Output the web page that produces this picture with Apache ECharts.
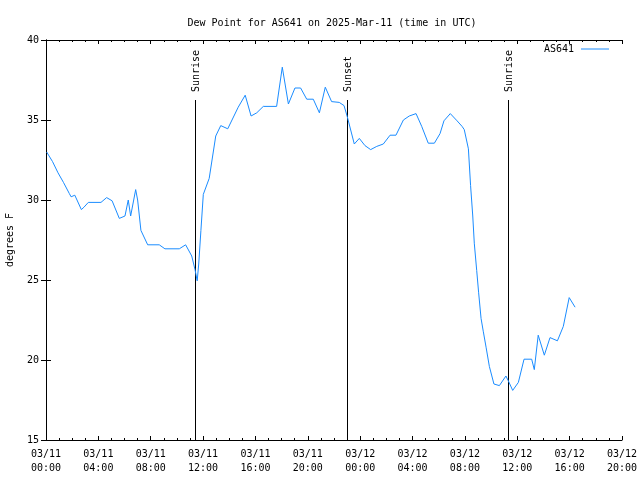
<!DOCTYPE html>
<html><head><meta charset="utf-8">
<script src="https://cdn.jsdelivr.net/npm/echarts@6/dist/echarts.min.js"></script>
<style>html,body{margin:0;padding:0;background:#fff}#c{width:640px;height:480px}</style>
</head><body><div id="c"></div>
<script>
const times = ['03/11 00:03','03/11 00:30','03/11 00:55','03/11 01:20','03/11 01:47','03/11 01:55','03/11 02:12','03/11 02:42','03/11 02:54','03/11 03:14','03/11 04:12','03/11 04:38','03/11 05:03','03/11 05:36','03/11 06:02','03/11 06:17','03/11 06:28','03/11 06:51','03/11 07:00','03/11 07:15','03/11 07:46','03/11 08:39','03/11 09:05','03/11 10:11','03/11 10:40','03/11 11:08','03/11 11:23','03/11 11:33','03/11 11:40','03/11 11:50','03/11 12:01','03/11 12:28','03/11 12:58','03/11 13:21','03/11 13:53','03/11 14:41','03/11 15:13','03/11 15:40','03/11 16:06','03/11 16:36','03/11 17:37','03/11 18:03','03/11 18:31','03/11 19:01','03/11 19:27','03/11 19:55','03/11 20:25','03/11 20:53','03/11 21:20','03/11 21:49','03/11 22:24','03/11 22:46','03/11 23:01','03/11 23:33','03/11 23:56','03/12 00:22','03/12 00:48','03/12 01:16','03/12 01:46','03/12 02:17','03/12 02:44','03/12 03:18','03/12 03:45','03/12 04:16','03/12 04:42','03/12 05:12','03/12 05:40','03/12 06:06','03/12 06:24','03/12 06:53','03/12 07:24','03/12 07:47','03/12 07:57','03/12 08:16','03/12 08:26','03/12 08:36','03/12 08:43','03/12 08:54','03/12 09:03','03/12 09:14','03/12 09:24','03/12 09:37','03/12 09:52','03/12 10:13','03/12 10:38','03/12 11:08','03/12 11:19','03/12 11:39','03/12 12:05','03/12 12:31','03/12 13:06','03/12 13:18','03/12 13:36','03/12 14:04','03/12 14:30','03/12 15:04','03/12 15:31','03/12 15:58','03/12 16:25'];
const dewPoint = [33.0,32.4,31.7,31.1,30.4,30.2,30.3,29.4,29.55,29.85,29.85,30.15,29.95,28.85,29.0,30.0,29.0,30.65,30.0,28.1,27.2,27.2,26.95,26.95,27.2,26.5,25.65,24.95,26.0,28.1,30.35,31.35,34.0,34.65,34.45,35.8,36.55,35.25,35.45,35.85,35.85,38.3,36.0,37.0,37.0,36.3,36.3,35.45,37.05,36.15,36.1,35.9,35.2,33.5,33.85,33.4,33.15,33.35,33.5,34.05,34.05,35.0,35.25,35.4,34.6,33.55,33.55,34.15,34.95,35.4,34.95,34.6,34.4,33.2,30.9,29.0,27.3,25.6,24.2,22.6,21.8,20.8,19.6,18.5,18.4,19.0,18.7,18.1,18.6,20.05,20.05,19.4,21.55,20.3,21.4,21.2,22.1,23.9,23.3];
const xTickLabels = ['03/11\n00:00','03/11\n04:00','03/11\n08:00','03/11\n12:00','03/11\n16:00','03/11\n20:00','03/12\n00:00','03/12\n04:00','03/12\n08:00','03/12\n12:00','03/12\n16:00','03/12\n20:00'];
const sunTimes = ['03/11 11:23','03/11 23:01','03/12 11:19'];
const sunLabels = ['Sunrise','Sunset','Sunrise'];
const seriesName = 'AS641';
const titleText = 'Dew Point for AS641 on 2025-Mar-11 (time in UTC)';
const yName = 'degrees F';

function toHours(s){
  const parts = s.split(' ');
  const day = +parts[0].split('/')[1];
  const hm = parts[1].split(':').map(Number);
  return (day - 11) * 24 + hm[0] + hm[1] / 60;
}
const FONT = 'DejaVu Sans Mono';
const lineData = times.map((t, i) => [toHours(t), dewPoint[i]]);
const sunData = sunTimes.map(t => [toHours(t)]);

const chart = echarts.init(document.getElementById('c'), null, {renderer: 'canvas'});
const axisCommon = {
  axisLine: {lineStyle: {color: '#000', width: 1}},
  splitLine: {show: false}
};
chart.setOption({
  animation: false,
  backgroundColor: '#fff',
  title: {text: titleText, left: 327, top: 13, textAlign: 'center',
    textStyle: {fontFamily: FONT, fontSize: 10, fontWeight: 'normal', color: '#000'}},
  legend: {data: [{name: seriesName, icon: 'rect'}], right: 26, top: 39, align: 'right',
    itemWidth: 28, itemHeight: 1, itemGap: 0,
    textStyle: {fontFamily: FONT, fontSize: 10, color: '#000', padding: [0, 2, 0, 0]}},
  grid: {left: 46, right: 18, top: 40, bottom: 40, containLabel: false, outerBoundsMode: 'none'},
  xAxis: [
    Object.assign({type: 'value', min: 0, max: 44, interval: 4, position: 'bottom',
      axisTick: {inside: true, length: 4, lineStyle: {color: '#000'}},
      minorTick: {show: true, splitNumber: 4, length: 2, lineStyle: {color: '#000'}},
      axisLabel: {fontFamily: FONT, fontSize: 10, color: '#000', lineHeight: 14, margin: 7,
        formatter: v => xTickLabels[Math.round(v / 4)]}}, axisCommon),
    Object.assign({type: 'value', min: 0, max: 44, interval: 4, position: 'top',
      axisTick: {inside: true, length: 4, lineStyle: {color: '#000'}},
      minorTick: {show: true, splitNumber: 4, length: 2, lineStyle: {color: '#000'}},
      axisLabel: {show: false}}, axisCommon)
  ],
  yAxis: [
    Object.assign({type: 'value', min: 15, max: 40, interval: 5, position: 'left',
      name: yName, nameLocation: 'middle', nameRotate: 90, nameGap: 31,
      nameTextStyle: {fontFamily: FONT, fontSize: 10, color: '#000'},
      axisTick: {inside: true, length: 5, lineStyle: {color: '#000'}},
      axisLabel: {fontFamily: FONT, fontSize: 10, color: '#000', margin: 7}}, axisCommon),
    Object.assign({type: 'value', min: 15, max: 40, interval: 5, position: 'right',
      axisTick: {inside: true, length: 5, lineStyle: {color: '#000'}},
      axisLabel: {show: false}}, axisCommon)
  ],
  series: [
    {name: seriesName, type: 'line', data: lineData, showSymbol: false, symbol: 'none',
      lineStyle: {color: '#1a8cff', width: 1}, itemStyle: {color: '#1a8cff'}, z: 3},
    {name: 'sun', type: 'custom', data: sunData, z: 2,
      renderItem: function (params, api) {
        const x = api.value(0);
        const top = api.coord([x, 36.25]);
        const bot = api.coord([x, 15]);
        const px = Math.round(top[0]) + 0.5;
        return {type: 'group', children: [
          {type: 'line', shape: {x1: px, y1: Math.round(top[1]), x2: px, y2: bot[1]},
            style: {stroke: '#000', lineWidth: 1}},
          {type: 'text', x: px + 1, y: top[1] - 8, rotation: Math.PI / 2,
            style: {text: sunLabels[params.dataIndex], textAlign: 'left', textVerticalAlign: 'middle',
              font: '10px "' + FONT + '"', fill: '#000'}}
        ]};
      }}
  ]
});
</script></body></html>
